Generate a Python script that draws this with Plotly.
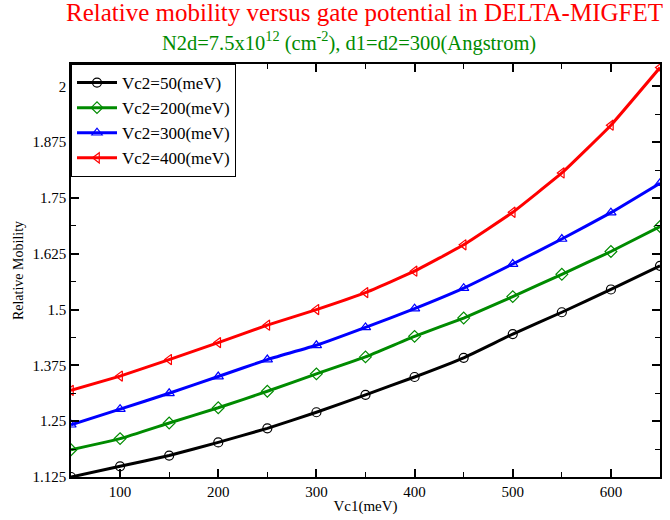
import plotly.graph_objects as go

vc1 = [50, 100, 150, 200, 250, 300, 350, 400, 450, 500, 550, 600, 650]
mob_50 = [1.125, 1.149, 1.173, 1.2025, 1.234, 1.270, 1.309, 1.349, 1.392, 1.445, 1.494, 1.545, 1.598]
mob_200 = [1.186, 1.211, 1.246, 1.280, 1.317, 1.356, 1.394, 1.440, 1.481, 1.529, 1.579, 1.630, 1.686]
mob_300 = [1.242, 1.277, 1.3125, 1.350, 1.388, 1.420, 1.460, 1.502, 1.548, 1.602, 1.658, 1.717, 1.783]
mob_400 = [1.319, 1.351, 1.388, 1.426, 1.465, 1.500, 1.538, 1.586, 1.645, 1.718, 1.806, 1.913, 2.042]
series_names = ["Vc2=50(meV)", "Vc2=200(meV)", "Vc2=300(meV)", "Vc2=400(meV)"]
y_tickvals = [1.125, 1.25, 1.375, 1.5, 1.625, 1.75, 1.875, 2.0]
y_ticktext = ["1.125", "1.25", "1.375", "1.5", "1.625", "1.75", "1.875", "2"]

colors = ["black", "#008B00", "blue", "red"]
symbols = ["circle-open", "diamond-open", "triangle-up-open", "triangle-left-open"]
FONT = "Liberation Serif"

fig = go.Figure()
for name, ys, c, s in zip(series_names, [mob_50, mob_200, mob_300, mob_400], colors, symbols):
    fig.add_trace(go.Scatter(
        x=vc1, y=ys, name=name, mode="lines+markers",
        line=dict(color=c, width=3, shape="spline", smoothing=0.3),
        marker=dict(symbol=s, size=9, color=c, line=dict(color=c, width=1.2)),
    ))

axis_common = dict(showline=True, linecolor="black", linewidth=1.5, mirror="ticks",
                   ticks="inside", ticklen=8, tickwidth=1.5, tickcolor="black",
                   showgrid=False, zeroline=False,
                   tickfont=dict(family=FONT, size=15, color="black"))

fig.update_xaxes(range=[50, 650], tickmode="linear", tick0=0, dtick=100,
                 minor=dict(ticks="inside", ticklen=5, dtick=50, tick0=0, tickcolor="black", tickwidth=1.2),
                 title=dict(text="Vc1(meV)", font=dict(family=FONT, size=15, color="black"), standoff=2),
                 **axis_common)
fig.update_yaxes(range=[1.125, 2.05], tickmode="array", tickvals=y_tickvals, ticktext=y_ticktext,
                 minor=dict(ticks="inside", ticklen=5, dtick=0.0625, tick0=1.125, tickcolor="black", tickwidth=1.2),
                 title=dict(text="Relative Mobility", font=dict(family=FONT, size=14, color="black"), standoff=6),
                 **axis_common)

fig.add_annotation(text="Relative mobility versus gate potential in DELTA-MIGFET",
                   xref="paper", yref="paper", x=0.499, y=1.124, xanchor="center", yanchor="middle",
                   showarrow=False, font=dict(family=FONT, size=25, color="red"))
fig.add_annotation(text="N2d=7.5x10<sup>12</sup> (cm<sup>-2</sup>), d1=d2=300(Angstrom)",
                   xref="paper", yref="paper", x=0.472, y=1.054, xanchor="center", yanchor="middle",
                   showarrow=False, font=dict(family=FONT, size=20.5, color="#008B00"))

fig.update_layout(
    width=670, height=520,
    margin=dict(l=71, r=8, t=64, b=41),
    paper_bgcolor="white", plot_bgcolor="white",
    font=dict(family=FONT, color="black"),
    legend=dict(x=0.0, y=1.0, xanchor="left", yanchor="top",
                bgcolor="white", bordercolor="black", borderwidth=1,
                font=dict(family=FONT, size=17, color="black"),
                tracegroupgap=0, itemwidth=40),
    showlegend=True,
)

fig.write_html("out.html")
